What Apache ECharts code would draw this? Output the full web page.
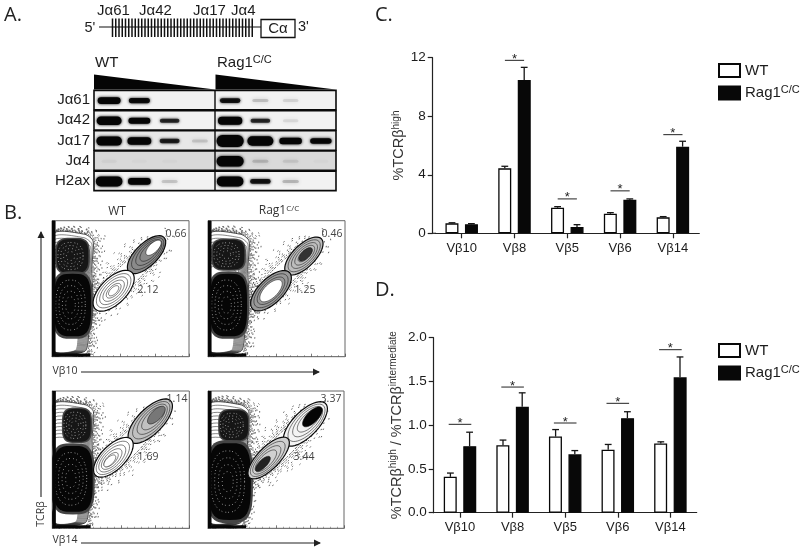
<!DOCTYPE html>
<html><head><meta charset="utf-8">
<style>html,body{margin:0;padding:0;background:#fff}#c{width:800px;height:552px}</style>
<script src="https://cdn.jsdelivr.net/npm/echarts@6/dist/echarts.min.js"></script>
</head><body><div id="c"></div>
<script>
// ---------- data ----------
const categories = ['Vβ10','Vβ8','Vβ5','Vβ6','Vβ14'];
const seriesNames = ['WT','Rag1C/C'];
const wtHigh = [0.68,4.44,1.75,1.34,1.09];
const wtHighTop = [0.72,4.58,1.82,1.41,1.14];
const koHigh = [0.62,10.48,0.43,2.30,5.92];
const koHighTop = [0.66,11.34,0.59,2.35,6.29];
const sigHigh = [null,11.82,2.35,2.90,6.74];
const wtRatio = [0.41,0.77,0.87,0.72,0.79];
const wtRatioTop = [0.453,0.83,0.95,0.78,0.81];
const koRatio = [0.76,1.21,0.667,1.08,1.547];
const koRatioTop = [0.92,1.37,0.71,1.154,1.78];
const sigRatio = [1.01,1.436,1.025,1.25,1.863];
const gelRows = ['Jα61','Jα42','Jα17','Jα4','H2ax'];
const gelLanes = ['w1','w2','w3','w4','r1','r2','r3','r4'];
const gelIntensity = [
  [0.72,0.55,0,0,0.50,0.10,0.06,0],
  [0.90,0.62,0.42,0,0.85,0.42,0.05,0],
  [0.95,0.80,0.45,0.08,1.25,1.00,0.68,0.58],
  [0.02,0.01,0.01,0,1.10,0.09,0.05,0.01],
  [1.05,0.70,0.09,0,1.05,0.50,0.12,0]
];
const gateLabels = [['0.66','2.12'],['0.46','1.25'],['1.14','1.69'],['3.37','3.44']];

// ---------- helpers ----------
const FONT = '"Liberation Sans"';
const SANS = '"Open Sans"';
const el = [];
const txt = (x,y,text,size,o={}) => el.push({type:'text',x,y,silent:true,rotation:o.rot||0,z:20,style:{
  text,fontFamily:o.ff||FONT,fontSize:size,fill:o.fill||'#1c1c1c',align:o.align||'left',verticalAlign:o.va||'middle',rich:o.rich}});
const line = (x1,y1,x2,y2,w=1,c='#111') => el.push({type:'line',silent:true,z:15,shape:{x1,y1,x2,y2},style:{stroke:c,lineWidth:w}});
const supRich = (s,sup) => ({sup:{fontSize:sup,fontFamily:FONT,fill:'#1c1c1c',padding:[0,0,s,0]}});

// panel letters
[['A.',4,15],['B.',4,213],['C.',375,15],['D.',375,290]].forEach(a=>txt(a[1],a[2],a[0],20,{ff:SANS,fill:'#222'}));

// schematic panel A
line(99,27,261,27,1.1);
for(let x=112.5;x<=254.5;x+=3.25) line(x,18.5,x,37,1.5,'#111');
el.push({type:'rect',silent:true,z:16,shape:{x:261,y:19.5,width:34,height:18},style:{fill:'#fff',stroke:'#111',lineWidth:1.3}});
txt(278,28.5,'Cα',15,{align:'center'});
txt(84.5,27.5,"5'",14.5); txt(298,27,"3'",14.5);
[['Jα61',97],['Jα42',139],['Jα17',193],['Jα4',231]].forEach(a=>txt(a[1],11,a[0],15));
txt(95,62.5,'WT',15);
txt(217,63,'Rag1{sup|C/C}',15,{rich:supRich(7,11)});
el.push({type:'polygon',silent:true,shape:{points:[[94,74.5],[94,89.5],[215,89.5]]},style:{fill:'#050505'}});
el.push({type:'polygon',silent:true,shape:{points:[[215.5,74.5],[215.5,89.5],[335.5,89.5]]},style:{fill:'#050505'}});

// flow panel text and arrows
txt(117,212,'WT',12,{ff:SANS,align:'center',fill:'#333'});
txt(279,211,'Rag1{sup|C/C}',12,{ff:SANS,align:'center',fill:'#333',rich:{sup:{fontSize:8,fontFamily:SANS,fill:'#333',padding:[0,0,5,0]}}});
const arrow=(x1,y1,x2,y2)=>{
  line(x1,y1,x2,y2,1.1,'#222');
  const p = x2>x1 ? [[x2+1,y2],[x2-6,y2-3.5],[x2-6,y2+3.5]] : [[x2,y2-1],[x2-3.5,y2+6],[x2+3.5,y2+6]];
  el.push({type:'polygon',silent:true,shape:{points:p},style:{fill:'#222'}});
};
arrow(41,497,41,232); arrow(81,372,319,372); arrow(81,543,320,543);
txt(65,371.5,'Vβ10',10.5,{ff:SANS,align:'center',fill:'#333'});
txt(65,540,'Vβ14',10.5,{ff:SANS,align:'center',fill:'#333'});
txt(41,514,'TCRβ',10.5,{ff:SANS,align:'center',fill:'#333',rot:Math.PI/2});
const gateLabelPos=[[[176,234],[148,290]],[[332,234],[305,290]],[[177,399],[148,457]],[[331,399],[304,457]]];
gateLabels.forEach((pair,i)=>pair.forEach((t,j)=>txt(gateLabelPos[i][j][0],gateLabelPos[i][j][1],t,10.5,{ff:SANS,align:'center',fill:'#444'})));

// ---------- gel ----------
const gelData=[];
gelIntensity.forEach((row,r)=>row.forEach((v,l)=>{ if(v>0) gelData.push([l,r,v]); }));
const renderRow=(params,api)=>{
  const r=api.value(0), cs=params.coordSys;
  const y=api.coord([0,r])[1], h=api.size([1,1])[1];
  return {type:'group',children:[
    {type:'rect',shape:{x:cs.x,y:y-h/2+0.4,width:cs.width,height:h-0.8},style:{fill:r===3?'#d9d9d9':(r===2?'#e8e8e8':'#f2f2f2'),stroke:'#0a0a0a',lineWidth:1.6}},
    {type:'line',shape:{x1:cs.x+cs.width/2,y1:y-h/2,x2:cs.x+cs.width/2,y2:y+h/2},style:{stroke:'#0a0a0a',lineWidth:1.4}}
  ]};
};
const renderBand=(params,api)=>{
  const c=api.coord([api.value(0),api.value(1)]), v=api.value(2);
  const w=15+11*Math.min(v,1.1), h=Math.max(3,9.5*v);
  const strong=v<0.2?v*1.6:Math.min(1,v*1.5+0.1);
  return {type:'rect',shape:{x:c[0]-w/2,y:c[1]-h/2+0.5,width:w,height:h,r:h/2},
    style:{fill:'#050505',opacity:strong,shadowColor:'#000',shadowBlur:v>0.3?3:4}};
};

// ---------- flow plots (plot-fraction coordinates) ----------
const blob=(cx,cy,rx,ry,p,rot=0)=>{
  const pts=[],c=Math.cos(rot),s=Math.sin(rot);
  for(let i=0;i<48;i++){const t=i/48*2*Math.PI,ct=Math.cos(t),st=Math.sin(t);
    const x=rx*Math.sign(ct)*Math.pow(Math.abs(ct),2/p),y=ry*Math.sign(st)*Math.pow(Math.abs(st),2/p);
    pts.push([cx+x*c-y*s,cy+x*s+y*c]);}
  return pts;
};
const A45=Math.PI/4;
const gateLayout=[
 [{c:[69,75],a:18,b:8.2,ring:'#8a8a8a',core:'#fff',cs:.4,sh:.4},{c:[45,48.5],a:19,b:9.5,ring:'#fff',core:'#fff',cs:.25,sh:0}],
 [{c:[70,74],a:18,b:8.2,ring:'#bdbdbd',core:'#333',cs:.35,sh:.1},{c:[46,48.5],a:19,b:9,ring:'#999',core:'#fff',cs:.55,sh:0}],
 [{c:[71.5,78],a:21,b:9.2,ring:'#c0c0c0',core:'#777',cs:.4,sh:.3},{c:[44.6,51.7],a:18.5,b:8.8,ring:'#fff',core:'#fff',cs:.3,sh:-.2}],
 [{c:[71.6,76],a:21,b:9.2,ring:'#f4f4f4',core:'#050505',cs:.45,sh:.35},{c:[44.6,51.2],a:20,b:8,ring:'#d0d0d0',core:'#222',cs:.36,sh:-.3}]
];
const dotDensity=[0.85,0.9,0.9,1.1];
const outline=[[1,90],[24,90],[30,85],[29,64],[30,38],[27,18],[24,4],[1,4]];
const massLayout=[
 {up:[15,74,11.5,12.5],low:[15,38,13.5,23]},
 {up:[15,75,11.5,11],low:[15,38,13.5,23]},
 {up:[18,75,10,12],low:[15,36,14.5,24]},
 {up:[19,75,10.5,11],low:[16,34,15.5,28]}
];
const renderFlow=(params,api)=>{
  const i=api.value(0), ch=[], d=dotDensity[i], m=massLayout[i];
  const P=pts=>pts.map(p=>api.coord(p));
  const poly=(pts,style,smooth)=>ch.push({type:'polygon',shape:{points:P(pts),smooth:smooth||0},style});
  const dots=(pts,g,off,smooth)=>poly(pts,{fill:'none',stroke:'#1a1a1a',lineWidth:.7,lineCap:'round',lineDash:[.7,g,.7,g*1.8,.7,g*.55,.7,g*1.25],lineDashOffset:off},smooth);
  for(let k=1;k<=9;k++){
    const gap=(1.1+k*k*0.14)/d;
    dots(outline.map(p=>[p[0]*(1+k*.032),Math.min(99,p[1]*(1+k*.005))+(p[1]<10?-2:0)]),gap,k*1.7,.25);
  }
  for(let k=0;k<=8;k++){
    const gap=(1.4+k*k*0.3)/d;
    dots(blob(55,60,31+k*1.8,8+k*1.3,2,A45),gap,k*2.3);
  }
  poly(outline,{fill:'#fff',stroke:'#111',lineWidth:.8},.25);
  [.97,.94,.91,.88,.85,.82,.79,.76,.73,.7].forEach(k=>poly(outline.map(p=>[1+(p[0]-1)*k,6+(p[1]-6)*k]),{fill:'none',stroke:'#222',lineWidth:.55},.25));
  const block=(b,dens)=>{
    poly(blob(b[0],b[1],b[2]*1.1,b[3]*1.08,3.5),{fill:'#444'});
    poly(blob(b[0],b[1],b[2],b[3],3.5),{fill:dens});
    [.8,.62,.44,.26].forEach((k,j)=>poly(blob(b[0]-1.5,b[1],b[2]*k,b[3]*k,2.4),
      {fill:'none',stroke:'#d8d8d8',lineWidth:.7,lineDash:[.9,1.9+j*.4,.9,3.1],lineDashOffset:j}));
  };
  block(m.up,'#161616'); block(m.low,'#060606');
  poly([[0,0],[28,0],[28,2.3],[2.6,2.3],[2.6,100],[0,100]],{fill:'#060606'});
  gateLayout[i].forEach(g=>{
    const dx=g.a*g.sh*Math.SQRT1_2, cc=[g.c[0]+dx,g.c[1]+dx];
    poly(blob(g.c[0],g.c[1],g.a,g.b,2,A45),{fill:g.ring,stroke:'#0a0a0a',lineWidth:1.2});
    [.84,.68,.52,.36].forEach(k=>{ if(k>g.cs) poly(blob(g.c[0]+dx*(1-k),g.c[1]+dx*(1-k),g.a*k,g.b*k,2,A45),{fill:'none',stroke:'#111',lineWidth:.55}); });
    poly(blob(cc[0],cc[1],g.a*g.cs,g.b*g.cs,2,A45),{fill:g.core,stroke:'#111',lineWidth:.55});
  });
  return {type:'group',children:ch};
};

// ---------- bar helpers ----------
const renderErr=(off)=>(params,api)=>{
  const x=api.coord([api.value(0),0])[0]+off, t=api.coord([api.value(0),api.value(2)])[1], b=api.coord([api.value(0),api.value(1)])[1];
  const s={stroke:'#161616',lineWidth:1.3};
  return {type:'group',children:[
    {type:'line',shape:{x1:x,y1:b,x2:x,y2:t},style:s},
    {type:'line',shape:{x1:x-3.4,y1:t,x2:x+3.4,y2:t},style:s}]};
};
const renderSig=(half)=>(params,api)=>{
  const c=api.coord([api.value(0),api.value(1)]);
  return {type:'group',children:[
    {type:'line',shape:{x1:c[0]-half,y1:c[1],x2:c[0]+half,y2:c[1]},style:{stroke:'#222',lineWidth:1}},
    {type:'text',style:{x:c[0],y:c[1]-1,text:'*',align:'center',verticalAlign:'middle',fontFamily:FONT,fontSize:13,fill:'#222'}}]};
};

const grids=[
 {left:435.3,top:57.7,width:264,height:175.6},
 {left:433.7,top:337.7,width:263,height:175},
 {left:94,top:90,width:242,height:101},
 {left:52,top:220.7,width:137,height:136},
 {left:208,top:220.7,width:137,height:136},
 {left:52.3,top:391,width:137,height:137.3},
 {left:208,top:391,width:136,height:137.3}
].map(g=>Object.assign({containLabel:false},g));
const flowBox=[3,4,5,6];
grids.forEach((g,i)=>{ if(i>=3){g.show=true;g.borderColor='#666';g.borderWidth=1;g.backgroundColor='#fff';} });

const catAxis=(gi,margin)=>({type:'category',gridIndex:gi,data:categories,
  axisLine:{show:true,lineStyle:{color:'#222',width:1.2}},
  axisTick:{show:true,alignWithLabel:true,length:5,lineStyle:{color:'#222',width:1.2}},
  axisLabel:{fontFamily:FONT,fontSize:13,color:'#1c1c1c',margin,interval:0}});
const valAxis=(gi,max,interval,o)=>Object.assign({type:'value',gridIndex:gi,min:0,max,interval,splitLine:{show:false},
  axisLine:{show:true,lineStyle:{color:'#222',width:1.2}},
  axisTick:{show:true,length:5,lineStyle:{color:'#222',width:1.2}},
  axisLabel:{fontFamily:FONT,fontSize:13.5,color:'#1c1c1c',margin:7},
  nameLocation:'middle'},o);
const flowAxis=(gi)=>({type:'value',gridIndex:gi,min:0,max:100,interval:25,splitLine:{show:false},
  axisLine:{show:true,lineStyle:{color:'#777',width:1}},
  axisLabel:{show:false},
  axisTick:{show:true,inside:true,length:3,lineStyle:{color:'#444',width:.7}},
  minorTick:{show:true,splitNumber:5,length:1.6,lineStyle:{color:'#555',width:.5}},
  minorSplitLine:{show:false}});
const nameRich=(sup)=>({rich:{sup:{fontSize:sup,fontFamily:FONT,color:'#333',padding:[0,0,7,0]}}});

const barSeries=(name,vals,xi,isWT)=>({type:'bar',name,data:vals,xAxisIndex:xi,yAxisIndex:xi,barWidth:13,barGap:'50%',
  itemStyle:{color:isWT?'#fff':'#080808',borderColor:'#080808',borderWidth:1.3},z:3});
const errSeries=(name,vals,tops,xi,off)=>({type:'custom',name:name+' error',data:vals.map((v,i)=>[i,v,tops[i]]),xAxisIndex:xi,yAxisIndex:xi,renderItem:renderErr(off),z:2,silent:true,encode:{x:0,y:[1,2]}});
const sigSeries=(vals,xi,half)=>({type:'custom',name:'significance '+xi,data:vals.map((v,i)=>[i,v]).filter(d=>d[1]!==null),xAxisIndex:xi,yAxisIndex:xi,renderItem:renderSig(half),z:4,silent:true,encode:{x:0,y:1}});
const legendOf=(top)=>({show:true,left:713,top,orient:'vertical',data:seriesNames,icon:'rect',itemWidth:21,itemHeight:13,itemGap:6,selectedMode:false,
  formatter:n=>n==='Rag1C/C'?'Rag1{sup|C/C}':n,
  textStyle:{fontFamily:FONT,fontSize:15,color:'#1c1c1c',rich:{sup:{fontFamily:FONT,fontSize:11,color:'#1c1c1c',padding:[0,0,7,0]}}}});

// x axis stub so the C baseline meets its offset y axis
line(432.7,233.3,436,233.3,1.2,'#222');

const option={
  animation:false,backgroundColor:'#fff',textStyle:{fontFamily:FONT},
  grid:grids,
  legend:[legendOf(58),legendOf(338)],
  xAxis:[catAxis(0,9),catAxis(1,8),
    {type:'category',gridIndex:2,data:gelLanes,show:false},
    ...flowBox.map(flowAxis)],
  yAxis:[
    valAxis(0,12,4,{offset:2.6,name:'%TCRβ{sup|high}',nameGap:20,nameTextStyle:Object.assign({fontFamily:FONT,fontSize:14.5,color:'#333'},nameRich(10))}),
    valAxis(1,2,0.5,{axisLabel:{fontFamily:FONT,fontSize:13.5,color:'#1c1c1c',margin:7,formatter:v=>v.toFixed(1)},
      name:'%TCRβ{sup|high} / %TCRβ{sup|intermediate}',nameGap:26,nameTextStyle:Object.assign({fontFamily:FONT,fontSize:14.5,color:'#333'},nameRich(10))}),
    {type:'category',gridIndex:2,data:gelRows,inverse:true,axisLine:{show:false},axisTick:{show:false},
      axisLabel:{fontFamily:FONT,fontSize:15,color:'#1c1c1c',margin:4}},
    ...flowBox.map(flowAxis)],
  series:[
    barSeries('WT',wtHigh,0,true),barSeries('Rag1C/C',koHigh,0,false),
    errSeries('WT',wtHigh,wtHighTop,0,-9.7),errSeries('Rag1C/C',koHigh,koHighTop,0,9.7),sigSeries(sigHigh,0,9.6),
    barSeries('WT',wtRatio,1,true),barSeries('Rag1C/C',koRatio,1,false),
    errSeries('WT',wtRatio,wtRatioTop,1,-9.6),errSeries('Rag1C/C',koRatio,koRatioTop,1,9.6),sigSeries(sigRatio,1,11.3),
    {type:'custom',name:'gel rows',xAxisIndex:2,yAxisIndex:2,data:gelRows.map((r,i)=>[i]),renderItem:renderRow,silent:true,z:1,encode:{y:0}},
    {type:'custom',name:'gel bands',xAxisIndex:2,yAxisIndex:2,data:gelData,renderItem:renderBand,silent:true,z:2,encode:{x:0,y:1}},
    ...flowBox.map((gi,i)=>({type:'custom',name:'flow '+i,xAxisIndex:gi,yAxisIndex:gi,data:[[i]],renderItem:renderFlow,silent:true,clip:true,z:2,encode:{}}))
  ],
  graphic:{elements:el}
};
echarts.init(document.getElementById('c'),null,{renderer:'canvas'}).setOption(option);
</script></body></html>
